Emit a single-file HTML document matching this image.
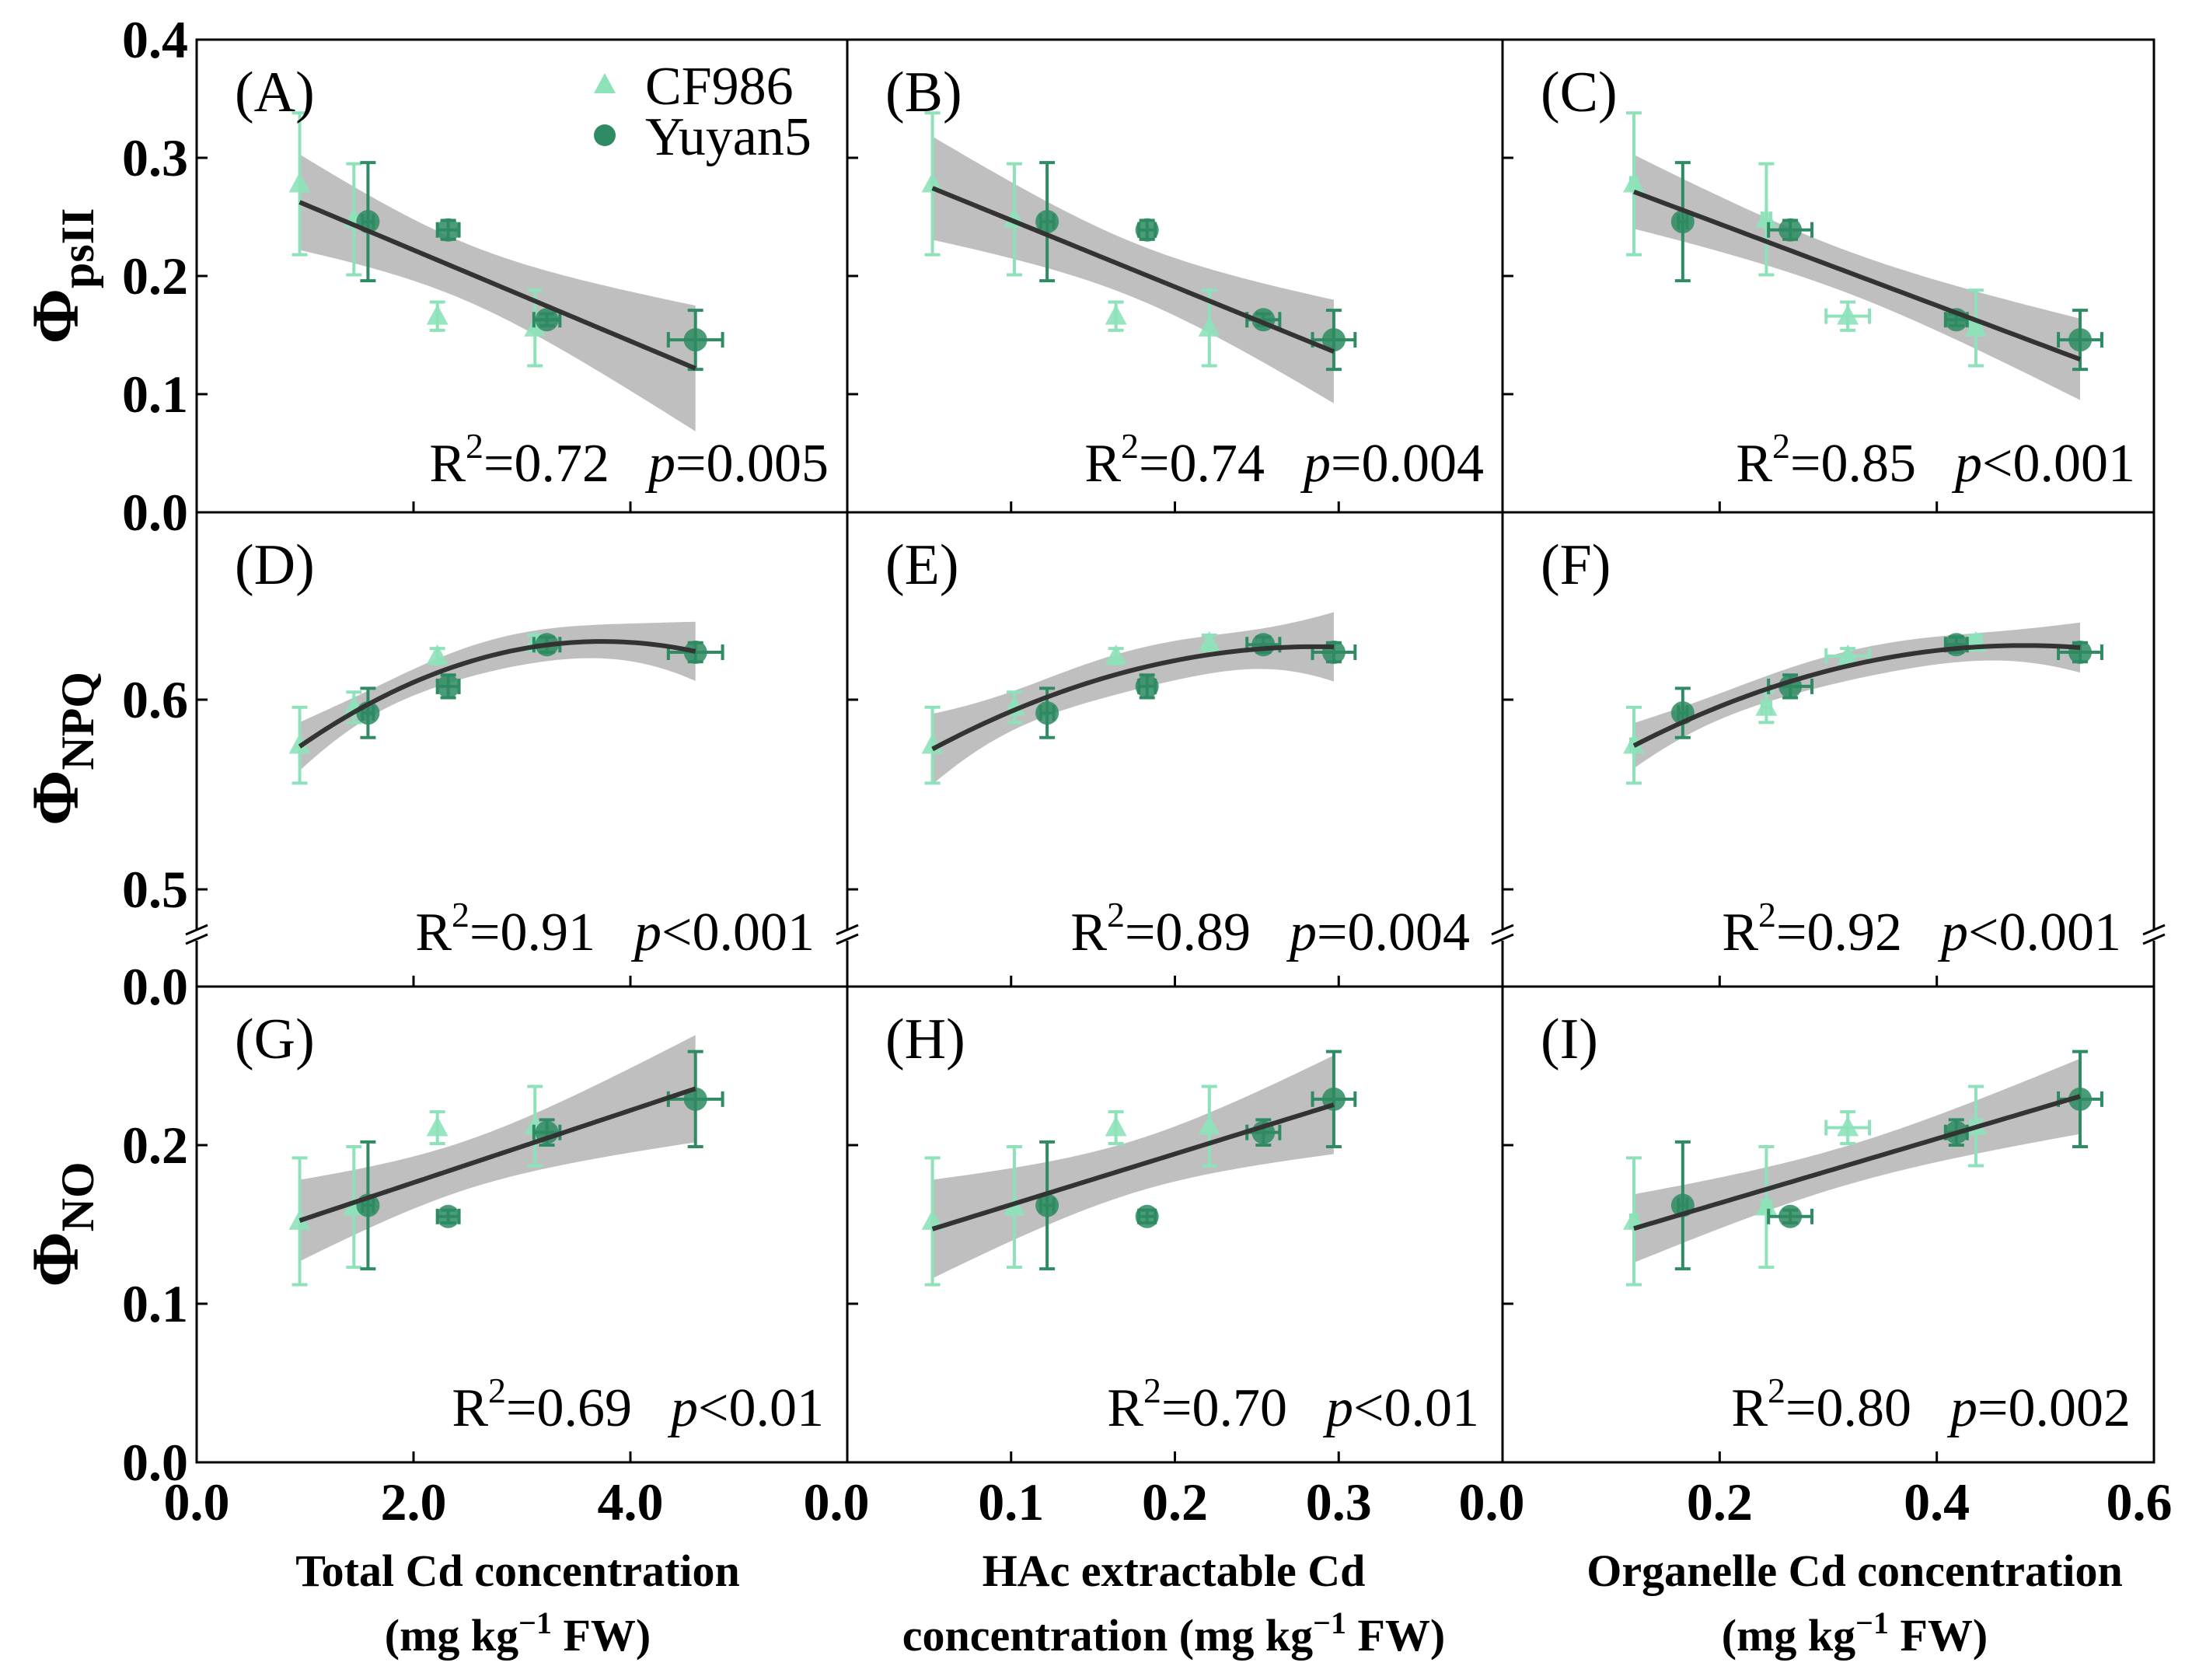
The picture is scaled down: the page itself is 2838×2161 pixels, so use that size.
<!DOCTYPE html>
<html><head><meta charset="utf-8"><style>
html,body{margin:0;padding:0;background:#fff}
svg{display:block}
text{font-family:"Liberation Serif",serif}
.tk{font-weight:bold;font-size:68px}
.st{font-size:70px}
.pl{font-size:74px}
</style></head><body>
<svg id="chart" width="2838" height="2161" viewBox="0 0 2838 2161" xmlns="http://www.w3.org/2000/svg">
<defs>
<clipPath id="c0"><rect x="253" y="51" width="2518" height="1830"/></clipPath>
</defs>
<g id="layer"></g>
</svg>
<script>
// ---- data ----
const xTotalTri=[0.95,1.45,2.22,3.12];
const xTotalCirc=[1.58,2.32,3.23,4.60];
const xTotalCircErr=[0.05,0.10,0.12,0.25];
const xHAcTri=[0.052,0.102,0.164,0.221];
const xHAcCirc=[0.122,0.183,0.254,0.297];
const xHAcCircErr=[0.004,0.005,0.01,0.013];
const xOrgTri=[0.121,0.243,0.318,0.436];
const xOrgTriErr=[0.003,0.004,0.02,0.005];
const xOrgCirc=[0.166,0.265,0.418,0.532];
const xOrgCircErr=[0.004,0.02,0.01,0.02];
const yPsiiTri=[0.278,0.248,0.166,0.156];
const yPsiiTriErr=[0.06,0.047,0.012,0.032];
const yPsiiCirc=[0.246,0.239,0.163,0.146];
const yPsiiCircErr=[0.05,0.008,0.005,0.025];
const yNpqTri=[0.576,0.596,0.623,0.630];
const yNpqTriErr=[0.02,0.008,0.004,0.004];
const yNpqCirc=[0.593,0.607,0.629,0.625];
const yNpqCircErr=[0.013,0.006,0.004,0.005];
const yNoTri=[0.152,0.161,0.211,0.212];
const yNoTriErr=[0.04,0.038,0.01,0.025];
const yNoCirc=[0.162,0.155,0.208,0.229];
const yNoCircErr=[0.04,0.004,0.008,0.03];
const statsR2=[["0.72","0.74","0.85"],["0.91","0.89","0.92"],["0.69","0.70","0.80"]];
const statsP=[["=0.005","=0.004","<0.001"],["<0.001","=0.004","<0.001"],["<0.01","<0.01","=0.002"]];
const panelLetters=["A","B","C","D","E","F","G","H","I"];
const xTicksTotal=["0.0","2.0","4.0"];
const xTicksHAc=["0.0","0.1","0.2","0.3"];
const xTicksOrg=["0.0","0.2","0.4","0.6"];

const NS="http://www.w3.org/2000/svg";
const layer=document.getElementById('layer');
function el(tag,attrs,parent){const e=document.createElementNS(NS,tag);for(const k in attrs)e.setAttribute(k,attrs[k]);(parent||layer).appendChild(e);return e;}

const cols=[
 {x0:253,x1:1090,xs:(v)=>253+v/6*837,tri:xTotalTri,circ:xTotalCirc,circErr:xTotalCircErr,triErr:[0,0,0,0],ticks:[0,2,4],labels:xTicksTotal},
 {x0:1090,x1:1933,xs:(v)=>1090+v/0.4*843,tri:xHAcTri,circ:xHAcCirc,circErr:xHAcCircErr,triErr:[0,0,0,0],ticks:[0,0.1,0.2,0.3],labels:xTicksHAc},
 {x0:1933,x1:2771,xs:(v)=>1933+v/0.6*838,tri:xOrgTri,circ:xOrgCirc,circErr:xOrgCircErr,triErr:xOrgTriErr,ticks:[0,0.2,0.4],labels:xTicksOrg}
];
const rows=[
 {y0:51,y1:659,ys:(v)=>659-v/0.4*608,tri:yPsiiTri,triErr:yPsiiTriErr,circ:yPsiiCirc,circErr:yPsiiCircErr,deg:1,ticks:[0.1,0.2,0.3],labels:[[0,"0.0"],[0.1,"0.1"],[0.2,"0.2"],[0.3,"0.3"],[0.4,"0.4"]],statY:619,statPad:24},
 {y0:659,y1:1269,ys:(v)=>900-(v-0.6)*2440,tri:yNpqTri,triErr:yNpqTriErr,circ:yNpqCirc,circErr:yNpqCircErr,deg:2,ticks:[0.5,0.6],labels:[[0.5,"0.5"],[0.6,"0.6"]],statY:1222,statPad:42},
 {y0:1269,y1:1881,ys:(v)=>1881-v/0.3*612,tri:yNoTri,triErr:yNoTriErr,circ:yNoCirc,circErr:yNoCircErr,deg:1,ticks:[0.1,0.2],labels:[[0,"0.0"],[0.1,"0.1"],[0.2,"0.2"]],statY:1834,statPad:30}
];

function solve(A,b){const n=b.length;const M=A.map((r,i)=>r.concat([b[i]]));
 for(let i=0;i<n;i++){let p=i;for(let j=i+1;j<n;j++)if(Math.abs(M[j][i])>Math.abs(M[p][i]))p=j;[M[i],M[p]]=[M[p],M[i]];
  for(let j=0;j<n;j++){if(j===i)continue;const f=M[j][i]/M[i][i];for(let k=i;k<=n;k++)M[j][k]-=f*M[i][k];}}
 return M.map((r,i)=>r[n]/r[i]);}
function inv(A){const n=A.length;const out=A.map(()=>new Array(n).fill(0));
 for(let c=0;c<n;c++){const col=solve(A,A.map((_,r)=>r===c?1:0));col.forEach((v,r)=>{out[r][c]=v;});}return out;}

function fit(xs,ys,deg){
 const X=xs.map(x=>{const r=[];for(let d=0;d<=deg;d++)r.push(Math.pow(x,d));return r;});
 const p=deg+1;const XtX=[];for(let i=0;i<p;i++){XtX.push([]);for(let j=0;j<p;j++){let s=0;X.forEach(r=>s+=r[i]*r[j]);XtX[i].push(s);}}
 const Xty=[];for(let i=0;i<p;i++){let s=0;X.forEach((r,k)=>s+=r[i]*ys[k]);Xty.push(s);}
 const beta=solve(XtX,Xty);const Inv=inv(XtX);
 let sse=0;X.forEach((r,k)=>{let f=0;r.forEach((v,i)=>f+=v*beta[i]);sse+=(ys[k]-f)**2;});
 const df=xs.length-p;const s2=sse/df;const t=df===6?2.447:2.571;
 return (x)=>{const r=[];for(let d=0;d<=deg;d++)r.push(Math.pow(x,d));let f=0;r.forEach((v,i)=>f+=v*beta[i]);
  let q=0;for(let i=0;i<p;i++)for(let j=0;j<p;j++)q+=r[i]*Inv[i][j]*r[j];const se=Math.sqrt(s2*q);return [f,f-t*se,f+t*se];};
}

const TRI="#8ee2ba",CIRC="#2e8b62";
rows.forEach((row,ri)=>{cols.forEach((col,ci)=>{
 const g=el('g',{'clip-path':'url(#c0)'});
 
 
 const xs=col.tri.concat(col.circ),ys=row.tri.concat(row.circ);
 const f=fit(xs,ys,row.deg);const mn=Math.min(...xs),mx=Math.max(...xs);
 let up=[],lo=[],ln=[];
 for(let i=0;i<=60;i++){const x=mn+(mx-mn)*i/60;const r=f(x);const px=col.xs(x);
  ln.push(px+','+row.ys(r[0]));lo.push(px+','+row.ys(r[1]));up.push(px+','+row.ys(r[2]));}
 const band=el('polygon',{points:up.concat(lo.reverse()).join(' '),fill:'#b4b4b4','fill-opacity':'0.85'},g);
 
 
 function errbar(px,py,ex,ey,color){
  const y1=row.ys(py-ey),y2=row.ys(py+ey),x=col.xs(px);
  el('line',{x1:x,x2:x,y1:y1,y2:y2,stroke:color,'stroke-width':4},g);
  el('line',{x1:x-10,x2:x+10,y1:y1,y2:y1,stroke:color,'stroke-width':4},g);
  el('line',{x1:x-10,x2:x+10,y1:y2,y2:y2,stroke:color,'stroke-width':4},g);
  if(ex>0){const xa=col.xs(px-ex),xb=col.xs(px+ex),y=row.ys(py);
   el('line',{x1:xa,x2:xb,y1:y,y2:y,stroke:color,'stroke-width':4},g);
   el('line',{x1:xa,x2:xa,y1:y-10,y2:y+10,stroke:color,'stroke-width':4},g);
   el('line',{x1:xb,x2:xb,y1:y-10,y2:y+10,stroke:color,'stroke-width':4},g);}
 }
 col.tri.forEach((x,i)=>{errbar(x,row.tri[i],col.triErr[i],row.triErr[i],TRI);
  const px=col.xs(x),py=row.ys(row.tri[i]);
  const m=el('polygon',{points:`${px},${py-15} ${px-14},${py+11} ${px+14},${py+11}`,fill:TRI,'fill-opacity':'0.9'},g);
  
  });
 col.circ.forEach((x,i)=>{errbar(x,row.circ[i],col.circErr[i],row.circErr[i],CIRC);
  const m=el('circle',{cx:col.xs(x),cy:row.ys(row.circ[i]),r:15,fill:CIRC,'fill-opacity':'0.85'},g);
  
  });
 const fl=el('polyline',{points:ln.join(' '),fill:'none',stroke:'#333','stroke-width':6},g);
 
 
 row.ticks.forEach(v=>{const y=row.ys(v);el('line',{x1:col.x0,x2:col.x0+14,y1:y,y2:y,stroke:'#000','stroke-width':3});});
 col.ticks.slice(1).forEach(v=>{const x=col.xs(v);el('line',{x1:x,x2:x,y1:row.y1,y2:row.y1-14,stroke:'#000','stroke-width':3});});
 const t=el('text',{x:col.x0+49,y:row.y0+92,class:'pl'});t.textContent='('+panelLetters[ri*3+ci]+')';
 
 
 const s=el('text',{x:col.x1-row.statPad,y:row.statY,class:'st','text-anchor':'end'});
 
 
 s.innerHTML=`R<tspan dy="-30" font-size="46">2</tspan><tspan dy="30">=${statsR2[ri][ci]}</tspan><tspan dx="50" font-style="italic">p</tspan><tspan>${statsP[ri][ci]}</tspan>`;
});});

for(let i=0;i<3;i++)for(let j=0;j<3;j++){const r=el('rect',{x:cols[j].x0,y:rows[i].y0,width:cols[j].x1-cols[j].x0,height:rows[i].y1-rows[i].y0,fill:'none',stroke:'#000','stroke-width':3});
 
 }
[253,1090,1933,2771].forEach(x=>{
 el('rect',{x:x-14,y:1196,width:28,height:14,fill:'#fff'});
 el('line',{x1:x-14,y1:1202,x2:x+14,y2:1190,stroke:'#000','stroke-width':3});
 el('line',{x1:x-14,y1:1214,x2:x+14,y2:1202,stroke:'#000','stroke-width':3});
});
rows.forEach(row=>{row.labels.forEach(([v,l])=>{const t=el('text',{x:242,y:row.ys(v)+23,class:'tk','text-anchor':'end'});t.textContent=l;
 
 });});
const z=el('text',{x:242,y:1292,class:'tk','text-anchor':'end'});z.textContent='0.0';


cols.forEach(col=>{col.ticks.forEach((v,i)=>{const t=el('text',{x:col.xs(v)+(i===0&&col.x0>300?-14:0),y:1955,class:'tk','text-anchor':'middle'});t.textContent=col.labels[i];
 
 });});
const six=el('text',{x:2752,y:1955,class:'tk','text-anchor':'middle'});six.textContent='0.6';


</script>
<svg style="position:absolute;left:0;top:0" width="2838" height="2161" xmlns="http://www.w3.org/2000/svg">
<g>
<polygon points="778,94 764,120 792,120" fill="#8ee2ba"/>
<text x="830" y="134" class="pl" style="font-size:70px">CF986</text>
<circle cx="778" cy="174" r="14" fill="#2e8b62"/>
<text x="830" y="199" class="pl" style="font-size:70px">Yuyan5</text>
</g>
<g font-weight="bold" font-family="Liberation Serif,serif">
<text transform="translate(100,355) rotate(-90)" text-anchor="middle" font-size="86">Φ<tspan font-size="60" dy="20">psII</tspan></text>
<text transform="translate(100,963) rotate(-90)" text-anchor="middle" font-size="86">Φ<tspan font-size="60" dy="20">NPQ</tspan></text>
<text transform="translate(100,1575) rotate(-90)" text-anchor="middle" font-size="86">Φ<tspan font-size="60" dy="20">NO</tspan></text>
<text x="666" y="2040" text-anchor="middle" font-size="58">Total Cd concentration</text>
<text x="666" y="2123" text-anchor="middle" font-size="58">(mg kg<tspan dy="-22" font-size="40">−1</tspan><tspan dy="22"> FW)</tspan></text>
<text x="1510" y="2040" text-anchor="middle" font-size="58">HAc extractable Cd</text>
<text x="1510" y="2123" text-anchor="middle" font-size="58">concentration (mg kg<tspan dy="-22" font-size="40">−1</tspan><tspan dy="22"> FW)</tspan></text>
<text x="2386" y="2040" text-anchor="middle" font-size="58">Organelle Cd concentration</text>
<text x="2386" y="2123" text-anchor="middle" font-size="58">(mg kg<tspan dy="-22" font-size="40">−1</tspan><tspan dy="22"> FW)</tspan></text>
</g>
</svg>
</body></html>
